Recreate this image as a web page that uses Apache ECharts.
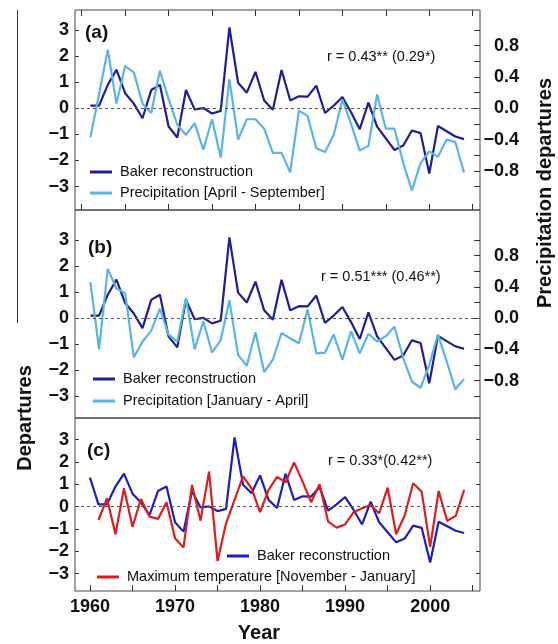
<!DOCTYPE html>
<html>
<head>
<meta charset="utf-8">
<script src="https://cdn.jsdelivr.net/npm/echarts@6/dist/echarts.min.js"></script>
<style>
  html, body { margin: 0; padding: 0; background: #fff; }
  #chart { width: 558px; height: 644px; }
</style>
</head>
<body>
<div id="chart"></div>
<script>
// years of the Baker reconstruction (panel c starts 1960, panels a/b start 1961)
const years = [1960, 1961, 1962, 1963, 1964, 1965, 1966, 1967, 1968, 1969,
  1970, 1971, 1972, 1973, 1974, 1975, 1976, 1977, 1978, 1979,
  1980, 1981, 1982, 1983, 1984, 1985, 1986, 1987, 1988, 1989,
  1990, 1991, 1992, 1993, 1994, 1995, 1996, 1997, 1998, 1999,
  2000, 2001, 2002, 2003, 2004];

// Baker reconstruction departures, 1960-2004
const baker = [1.30, 0.10, 0.10, 0.90, 1.48, 0.58, 0.18, -0.38, 0.70, 0.90,
  -0.70, -1.12, 0.70, -0.04, 0.01, -0.20, -0.10, 3.10, 0.98, 0.60,
  1.40, 0.30, -0.06, 1.47, 0.30, 0.46, 0.45, 0.87, -0.18, 0.10,
  0.43, -0.15, -0.80, 0.22, -0.70, -1.15, -1.60, -1.43, -0.85, -0.95,
  -2.50, -0.68, -0.88, -1.08, -1.18];

// precipitation departures April - September, 1961-2004 (right axis)
const precipAprSep = [-0.37, 0.18, 0.75, 0.06, 0.54, 0.46, 0.06, -0.06, 0.48, 0.12,
  -0.21, -0.34, -0.19, -0.53, -0.14, -0.63, 0.37, -0.40, -0.14, -0.14,
  -0.26, -0.57, -0.57, -0.82, -0.03, -0.10, -0.51, -0.56, -0.34, 0.11,
  -0.20, -0.54, -0.48, 0.18, -0.26, -0.26, -0.70, -1.05, -0.70, -0.55,
  -0.62, -0.40, -0.43, -0.82];

// precipitation departures January - April, 1961-2004 (right axis)
const precipJanApr = [0.46, -0.40, 0.63, 0.38, 0.32, -0.50, -0.30, -0.16, 0.12, -0.21,
  -0.30, 0.26, -0.40, -0.04, -0.44, -0.28, 0.23, -0.47, -0.61, -0.18,
  -0.69, -0.53, -0.19, -0.26, -0.32, 0.11, -0.45, -0.44, -0.21, -0.53,
  -0.17, -0.45, -0.20, -0.30, -0.23, -0.11, -0.51, -0.81, -0.89, -0.60,
  -0.21, -0.55, -0.91, -0.78];

// maximum temperature departures November - January, 1961-2004
const maxTemp = [-0.60, 0.37, -1.24, 0.82, -0.90, 0.34, -0.45, -0.55, 0.20, -1.42,
  -1.83, 0.97, -0.63, 1.57, -2.44, -0.75, 0.30, 1.35, 0.82, -0.25,
  0.75, 1.33, 1.09, 1.98, 1.12, 0.20, 1.00, -0.67, -0.94, -0.80,
  -0.25, -0.07, 0.07, -0.30, 0.85, -1.24, -0.40, 1.05, 0.67, -1.80,
  0.70, -0.64, -0.42, 0.75];

const yearTicks = [1960, 1965, 1970, 1975, 1980, 1985, 1990, 1995, 2000, 2005];
const yearLabels = [1960, 1970, 1980, 1990, 2000];
const depTicks = [-3, -2, -1, 0, 1, 2, 3];
const precipTicks = [-1.0, -0.8, -0.6, -0.4, -0.2, 0, 0.2, 0.4, 0.6, 0.8, 1.0];
const precipLabels = [-0.8, -0.4, 0, 0.4, 0.8];
const rText = ['r = 0.43** (0.29*)', 'r = 0.51*** (0.46**)', 'r = 0.33*(0.42**)'];

const FONT = "'Liberation Sans', Arial, sans-serif";
const NAVY = '#1e1e96';
const LIGHT = '#5ab4e6';
const BLUE = '#1e1ebe';
const RED = '#dc1e1e';

const pairs = (ys, vals) => vals.map((v, i) => [ys[i], v]);
const years61 = years.slice(1);
const minus = v => (v < 0 ? '\u2212' : '') + Math.abs(v);
const minus1 = v => (v < 0 ? '\u2212' : '') + Math.abs(v).toFixed(1);

function xAx(grid, pos, min, max, showTicks, labels) {
  return {
    type: 'value', gridIndex: grid, position: pos, min: min, max: max,
    axisLine: { show: false, onZero: false }, splitLine: { show: false },
    axisTick: { show: showTicks, inside: true, length: 6, customValues: yearTicks,
      lineStyle: { color: '#333' } },
    axisLabel: labels ? { show: true, customValues: yearLabels, margin: 7,
      formatter: v => String(v),
      fontSize: 18, fontWeight: 'bold', color: '#111', fontFamily: FONT } : { show: false }
  };
}
function depAx(grid, pos, min, max, labels) {
  return {
    type: 'value', gridIndex: grid, position: pos, min: min, max: max,
    axisLine: { show: false, onZero: false }, splitLine: { show: false },
    axisTick: { show: true, inside: true, length: 4, customValues: depTicks,
      lineStyle: { color: '#333' } },
    axisLabel: labels ? { show: true, customValues: depTicks, margin: 6, formatter: minus,
      fontSize: 18, fontWeight: 'bold', color: '#111', fontFamily: FONT } : { show: false }
  };
}
function precAx(grid, min, max) {
  return {
    type: 'value', gridIndex: grid, position: 'right', min: min, max: max,
    axisLine: { show: false, onZero: false }, splitLine: { show: false },
    axisTick: { show: true, inside: true, length: 6, customValues: precipTicks,
      lineStyle: { color: '#333' } },
    axisLabel: { show: true, customValues: precipLabels, margin: 39, align: 'right',
      formatter: minus1, fontSize: 18, fontWeight: 'bold', color: '#111', fontFamily: FONT }
  };
}
const zeroLine = {
  silent: true, symbol: 'none', label: { show: false },
  lineStyle: { type: [3, 3], color: '#555', width: 1 },
  data: [{ yAxis: 0 }]
};
function line(name, x, y, data, color, mark) {
  const s = {
    name: name, type: 'line', xAxisIndex: x, yAxisIndex: y, data: data,
    color: color, showSymbol: false, symbol: 'none',
    lineStyle: { color: color, width: 2.2 }
  };
  if (mark) s.markLine = zeroLine;
  return s;
}
function leg(name, left, top, color) {
  const item = color ? { name: name, itemStyle: { color: color } } : name;
  return {
    data: [item], left: left, top: top, padding: 0, icon: 'rect',
    itemWidth: 22, itemHeight: 3, selectedMode: false,
    textStyle: { fontSize: 14.5, color: '#111', fontFamily: FONT, lineHeight: 16,
      padding: [0, 0, 0, 3] }
  };
}
function txt(s, x, y, font, extra) {
  return Object.assign({
    type: 'text', x: x, y: y, silent: true,
    style: { text: s, font: font, fill: '#111', align: 'left', verticalAlign: 'middle' }
  }, extra || {});
}

const chart = echarts.init(document.getElementById('chart'), null, { renderer: 'canvas' });
chart.setOption({
  animation: false,
  backgroundColor: '#fff',
  textStyle: { fontFamily: FONT },
  grid: [
    { left: 75, right: 78, top: 10, height: 200, show: true, borderColor: '#444', borderWidth: 1 },
    { left: 75, right: 78, top: 210, height: 208, show: true, borderColor: '#444', borderWidth: 1 },
    { left: 75, right: 78, top: 418, height: 173, show: true, borderColor: '#444', borderWidth: 1 }
  ],
  xAxis: [
    xAx(0, 'bottom', 1959.23, 2005.84, true, false),
    xAx(0, 'top', 1959.23, 2005.84, true, false),
    xAx(1, 'bottom', 1959.23, 2005.84, false, false),
    xAx(2, 'bottom', 1958.24, 2005.86, true, true)
  ],
  yAxis: [
    depAx(0, 'left', -3.9, 3.77, true),
    precAx(0, -1.3, 1.257),
    depAx(1, 'left', -3.83, 4.15, true),
    precAx(1, -1.277, 1.383),
    depAx(2, 'left', -3.78, 3.97, true),
    depAx(2, 'right', -3.78, 3.97, false)
  ],
  legend: [
    leg('Baker reconstruction', 90, 164),
    leg('Precipitation [April - September]', 90, 185),
    leg('Baker reconstruction', 93, 371),
    leg('Precipitation [January - April]', 93, 393),
    leg('Baker reconstruction', 227, 548, BLUE),
    leg('Maximum temperature [November - January]', 97, 569)
  ],
  series: [
    line('Baker reconstruction', 0, 0, pairs(years61, baker.slice(1)), NAVY, true),
    line('Precipitation [April - September]', 0, 1, pairs(years61, precipAprSep), LIGHT),
    line('Baker reconstruction', 2, 2, pairs(years61, baker.slice(1)), NAVY, true),
    line('Precipitation [January - April]', 2, 3, pairs(years61, precipJanApr), LIGHT),
    line('Baker reconstruction', 3, 4, pairs(years, baker), BLUE, true),
    line('Maximum temperature [November - January]', 3, 4, pairs(years61, maxTemp), RED)
  ],
  graphic: [
    txt('(a)', 85, 33, 'bold 19px ' + FONT),
    txt('(b)', 88, 248, 'bold 19px ' + FONT),
    txt('(c)', 87, 451, 'bold 19px ' + FONT),
    txt(rText[0], 327, 57, '14.5px ' + FONT),
    txt(rText[1], 321, 277, '14.5px ' + FONT),
    txt(rText[2], 328, 461, '14.5px ' + FONT),
    { type: 'text', x: 25, y: 418, rotation: Math.PI / 2, silent: true,
      style: { text: 'Departures', font: 'bold 20px ' + FONT, fill: '#111',
        align: 'center', verticalAlign: 'middle' } },
    { type: 'text', x: 545, y: 193, rotation: Math.PI / 2, silent: true,
      style: { text: 'Precipitation departures', font: 'bold 20px ' + FONT, fill: '#111',
        align: 'center', verticalAlign: 'middle' } },
    { type: 'text', x: 259, y: 633, silent: true,
      style: { text: 'Year', font: 'bold 20px ' + FONT, fill: '#111',
        align: 'center', verticalAlign: 'middle' } },
    { type: 'line', silent: true, shape: { x1: 17.5, y1: 10, x2: 17.5, y2: 323 },
      style: { stroke: '#333', lineWidth: 1 } }
  ]
});
</script>
</body>
</html>
